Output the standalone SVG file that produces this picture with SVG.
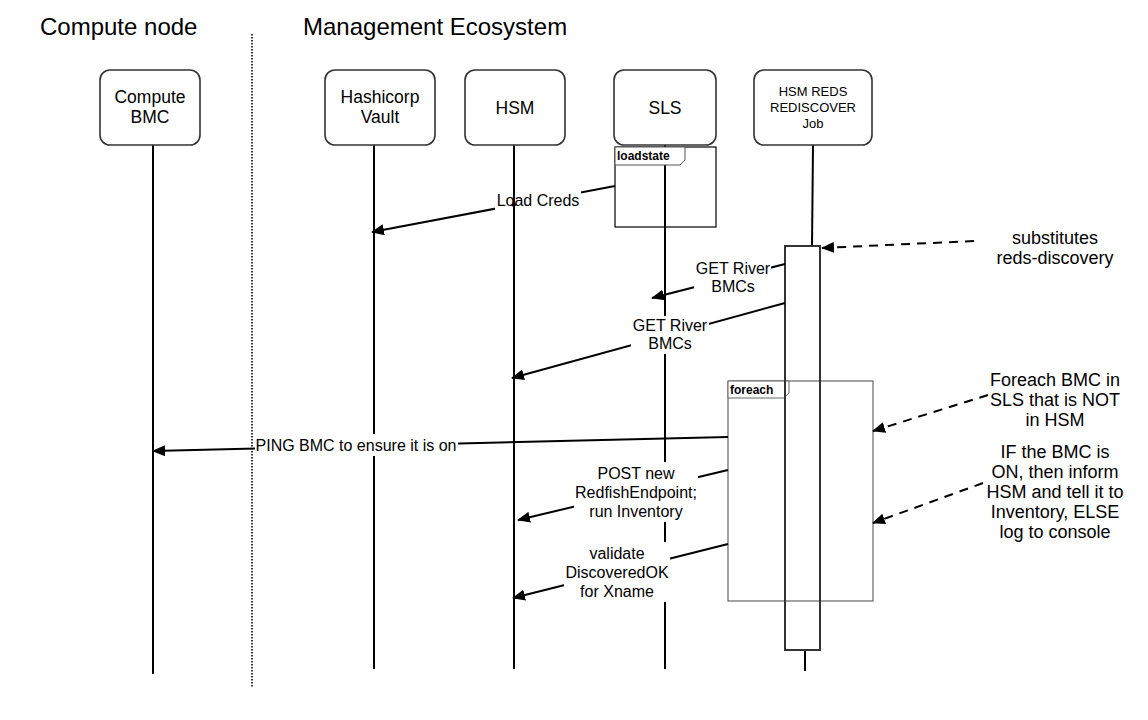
<svg xmlns="http://www.w3.org/2000/svg" width="1148" height="720" viewBox="0 0 1148 720">
<defs>
<style>
text{font-family:"Liberation Sans",Arial,Helvetica,sans-serif;fill:#000}
.hdr{font-size:24px}
.nt{font-size:17.5px;text-anchor:middle}
.sm{font-size:13px;text-anchor:middle}
.ml{font-size:16px;text-anchor:middle}
.note{font-size:18px;text-anchor:middle}
.fl{font-size:12px;font-weight:bold}
.box{fill:#fff;stroke:#333;stroke-width:1.6}
.life{stroke:#000;stroke-width:2;fill:none}
.msg{stroke:#000;stroke-width:2;fill:none;marker-end:url(#ah)}
.dash{stroke:#000;stroke-width:2;fill:none;stroke-dasharray:9 7;marker-end:url(#ah)}
.lbg{fill:#fff;stroke:none}
</style>
<marker id="ah" markerUnits="userSpaceOnUse" markerWidth="13" markerHeight="11" refX="12" refY="5.5" orient="auto">
<path d="M0,0 L13,5.5 L0,11 z" fill="#000"/>
</marker>
</defs>
<rect width="1148" height="720" fill="#fff"/>

<g id="headers">
<text class="hdr" x="40" y="35">Compute node</text>
<text class="hdr" x="303" y="35">Management Ecosystem</text>
<line x1="252" y1="34" x2="252" y2="688" stroke="#333" stroke-width="2" stroke-dasharray="1.5 1.5"/>
</g>

<g id="node-compute-bmc">
<line class="life" x1="153" y1="145" x2="153" y2="674"/>
<rect class="box" x="100" y="70" width="100" height="75" rx="10"/>
<text class="nt" x="150" y="103">Compute</text>
<text class="nt" x="150" y="123">BMC</text>
</g>

<g id="node-vault">
<line class="life" x1="374" y1="145" x2="374" y2="669"/>
<rect class="box" x="325" y="70" width="110" height="75" rx="10"/>
<text class="nt" x="380" y="103">Hashicorp</text>
<text class="nt" x="380" y="123">Vault</text>
</g>

<g id="node-hsm">
<line class="life" x1="514" y1="145" x2="514" y2="669"/>
<rect class="box" x="465" y="70" width="100" height="75" rx="10"/>
<text class="nt" x="515" y="114">HSM</text>
</g>

<g id="node-sls">
<line class="life" x1="665" y1="145" x2="665" y2="669"/>
<rect class="box" x="614" y="70" width="102" height="75" rx="10"/>
<text class="nt" x="665" y="114">SLS</text>
</g>

<g id="frame-loadstate">
<rect x="615" y="147" width="101" height="80" fill="none" stroke="#000" stroke-width="1.2"/>
<path d="M615,147 L685,147 L685,160 L680,165 L615,165 z" fill="#fff" stroke="#555" stroke-width="1"/>
<text class="fl" x="617" y="160">loadstate</text>
</g>

<g id="node-reds-job">
<line class="life" x1="813" y1="145" x2="812" y2="246"/>
<line class="life" x1="805" y1="650" x2="805" y2="671"/>
<rect class="box" x="754" y="70" width="118" height="75" rx="10"/>
<text class="sm" x="813" y="96">HSM REDS</text>
<text class="sm" x="813" y="112">REDISCOVER</text>
<text class="sm" x="813" y="128">Job</text>
</g>

<g id="frame-foreach">
<rect x="728" y="381" width="145" height="220" fill="none" stroke="#666" stroke-width="1.2"/>
<path d="M728,381 L789,381 L789,393 L784,398 L728,398 z" fill="#fff" stroke="#666" stroke-width="1"/>
<text class="fl" x="730" y="394">foreach</text>
</g>

<g id="activation-bar">
<rect x="785" y="246" width="35" height="404" fill="none" stroke="#333" stroke-width="2"/>
</g>

<g id="connectors">
<path class="msg" d="M615,186 L372,232"/>
<rect class="lbg" x="495" y="189" width="17" height="21"/>
<rect class="lbg" x="516" y="189" width="65" height="21"/>
<text class="ml" x="538" y="206">Load Creds</text>

<path class="msg" d="M785,264 L652,298"/>
<rect class="lbg" x="694" y="259" width="77" height="38"/>
<text class="ml" x="733" y="274">GET River</text>
<text class="ml" x="733" y="292">BMCs</text>

<path class="msg" d="M785,303 L512,378"/>
<rect class="lbg" x="631" y="316" width="78" height="38"/>
<text class="ml" x="670" y="331">GET River</text>
<text class="ml" x="670" y="349">BMCs</text>

<path class="msg" d="M728,437 L153,451"/>
<rect class="lbg" x="255" y="434" width="203" height="22"/>
<text class="ml" x="356" y="451">PING BMC to ensure it is on</text>

<path class="msg" d="M728,470 L518,520"/>
<rect class="lbg" x="574" y="462" width="124" height="60"/>
<text class="ml" x="636" y="479">POST new</text>
<text class="ml" x="636" y="498">RedfishEndpoint;</text>
<text class="ml" x="636" y="517">run Inventory</text>

<path class="msg" d="M728,544 L513,598"/>
<rect class="lbg" x="564" y="542" width="106" height="60"/>
<text class="ml" x="617" y="559">validate</text>
<text class="ml" x="617" y="578">DiscoveredOK</text>
<text class="ml" x="617" y="597">for Xname</text>

<path class="dash" d="M974,241 L822,248"/>
<path class="dash" d="M988,395 L873,431"/>
<path class="dash" d="M983,483 L873,523"/>
</g>

<g id="note-substitutes">
<text class="note" x="1055" y="244">substitutes</text>
<text class="note" x="1055" y="264">reds-discovery</text>
</g>
<g id="note-foreach">
<text class="note" x="1055" y="386">Foreach BMC in</text>
<text class="note" x="1055" y="406">SLS that is NOT</text>
<text class="note" x="1055" y="426">in HSM</text>
</g>
<g id="note-if">
<text class="note" x="1055" y="458">IF the BMC is</text>
<text class="note" x="1055" y="478">ON, then inform</text>
<text class="note" x="1055" y="498">HSM and tell it to</text>
<text class="note" x="1055" y="518">Inventory, ELSE</text>
<text class="note" x="1055" y="538">log to console</text>
</g>
</svg>
